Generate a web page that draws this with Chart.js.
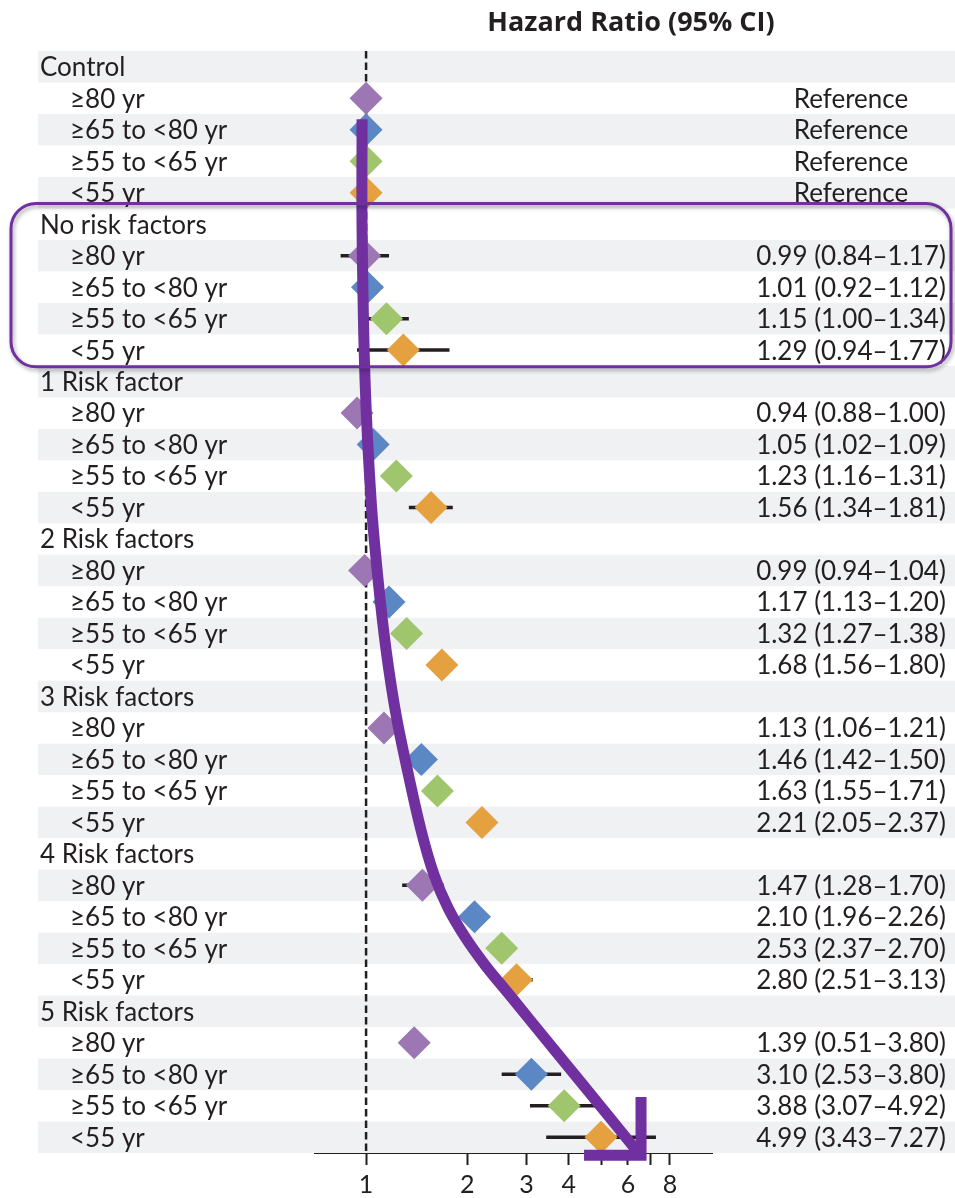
<!DOCTYPE html>
<html>
<head>
<meta charset="utf-8">
<title>Hazard Ratio by Risk Factors and Age</title>
<script src="https://cdn.jsdelivr.net/npm/chart.js@4/dist/chart.umd.min.js"></script>
<style>
  html, body { margin: 0; padding: 0; background: #ffffff; }
  canvas { display: block; }
</style>
</head>
<body>
<canvas id="forest" width="955" height="1198"></canvas>
<script>
// ---- data ----
const groups = ['Control', 'No risk factors', '1 Risk factor', '2 Risk factors', '3 Risk factors', '4 Risk factors', '5 Risk factors'];
const ageBands = ['≥80 yr', '≥65 to <80 yr', '≥55 to <65 yr', '<55 yr'];

// hazard ratio, lower and upper 95% CI per group (Control is the reference)
const hrAge80   = [1, 0.99, 0.94, 0.99, 1.13, 1.47, 1.39];
const loAge80   = [null, 0.84, 0.88, 0.94, 1.06, 1.28, 0.51];
const hiAge80   = [null, 1.17, 1.00, 1.04, 1.21, 1.70, 3.80];

const hrAge65   = [1, 1.01, 1.05, 1.17, 1.46, 2.10, 3.10];
const loAge65   = [null, 0.92, 1.02, 1.13, 1.42, 1.96, 2.53];
const hiAge65   = [null, 1.12, 1.09, 1.20, 1.50, 2.26, 3.80];

const hrAge55   = [1, 1.15, 1.23, 1.32, 1.63, 2.53, 3.88];
const loAge55   = [null, 1.00, 1.16, 1.27, 1.55, 2.37, 3.07];
const hiAge55   = [null, 1.34, 1.31, 1.38, 1.71, 2.70, 4.92];

const hrUnder55 = [1, 1.29, 1.56, 1.68, 2.21, 2.80, 4.99];
const loUnder55 = [null, 0.94, 1.34, 1.56, 2.05, 2.51, 3.43];
const hiUnder55 = [null, 1.77, 1.81, 1.80, 2.37, 3.13, 7.27];

const xTickValues = [1, 2, 3, 4, 5, 6, 7, 8];
const xTickLabels = ['1', '2', '3', '4', '', '6', '', '8'];

// hand-drawn trend arrow, in (hazard ratio, row) units
const trendPath = [
  [0.973, 1.67], [0.973, 5.19], [0.993, 9.96], [1.035, 13.77], [1.086, 16.31],
  [1.147, 18.53], [1.228, 20.59], [1.333, 22.44], [1.457, 24.25], [1.593, 25.67],
  [1.753, 26.72], [1.969, 27.64], [2.258, 28.53], [2.642, 29.42], [3.072, 30.28],
  [4.475, 32.41], [6.387, 34.44]
];
const trendHead = [[4.445, 34.57], [6.565, 34.57], [6.565, 32.72]];
// highlighted block of rows (first row, last row)
const highlightRows = [5, 9];

// ---- styling ----
const INK = '#231f20';
const ACCENT = '#7030a0';
const FONT = 'Lato, "Open Sans", sans-serif';
const ageColors = ['#9c77b3', '#5b87c4', '#a0c66d', '#e5a03f'];
const X_MIN = 0.705, X_MAX = 10.67;

const series = [
  { hr: hrAge80, lo: loAge80, hi: hiAge80 },
  { hr: hrAge65, lo: loAge65, hi: hiAge65 },
  { hr: hrAge55, lo: loAge55, hi: hiAge55 },
  { hr: hrUnder55, lo: loUnder55, hi: hiUnder55 }
];

// build the row table: a header row for each group followed by its four age bands
const rows = [];
groups.forEach((g, gi) => {
  rows.push({ header: true, label: g });
  ageBands.forEach((a, ai) => rows.push({ header: false, label: a, g: gi, a: ai }));
});
const ROW_MAX = rows.length - 1;

const fmt = v => v.toFixed(2);
rows.forEach(r => {
  if (r.header) { r.text = ''; return; }
  const s = series[r.a];
  r.text = s.lo[r.g] === null ? 'Reference'
    : fmt(s.hr[r.g]) + ' (' + fmt(s.lo[r.g]) + '–' + fmt(s.hi[r.g]) + ')';
});

// diamonds, one dataset per age band
const diamondSets = series.map((s, ai) => ({
  label: ageBands[ai],
  data: rows.map((r, ri) => r.header || r.a !== ai ? null : { x: s.hr[r.g], y: ri }).filter(Boolean),
  pointStyle: 'rectRot',
  pointRadius: 16.5,
  pointBackgroundColor: ageColors[ai],
  pointBorderWidth: 0,
  showLine: false,
  order: 2
}));

// confidence-interval whiskers as one broken line
const ciData = [];
rows.forEach((r, ri) => {
  if (r.header) return;
  const s = series[r.a];
  if (s.lo[r.g] === null || s.lo[r.g] < X_MIN) return;
  ciData.push({ x: s.lo[r.g], y: ri }, { x: s.hi[r.g], y: ri }, { x: 1, y: null });
});

const data = {
  datasets: [
    {
      label: 'trend',
      data: trendPath.map(p => ({ x: p[0], y: p[1] })),
      showLine: true, tension: 0.35, borderColor: ACCENT, borderWidth: 11,
      pointRadius: 0, borderCapStyle: 'butt', clip: false, order: 0
    },
    {
      label: 'trend head',
      data: trendHead.map(p => ({ x: p[0], y: p[1] })),
      showLine: true, tension: 0, borderColor: ACCENT, borderWidth: 11,
      borderJoinStyle: 'miter', pointRadius: 0, clip: false, order: 0
    },
    ...diamondSets,
    {
      label: 'ci',
      data: ciData,
      showLine: true, spanGaps: false, borderColor: INK, borderWidth: 3.5,
      pointRadius: 0, order: 3
    },
    {
      label: 'no effect',
      data: [{ x: 1, y: -0.5 }, { x: 1, y: ROW_MAX + 0.5 }],
      showLine: true, borderColor: INK, borderWidth: 2.5, borderDash: [7.5, 4],
      pointRadius: 0, order: 4
    }
  ]
};

// alternating row shading, row labels, estimates and column title
const bandsPlugin = {
  id: 'bands',
  beforeDatasetsDraw(chart) {
    const { ctx } = chart;
    const y = chart.scales.y;
    ctx.save();
    ctx.fillStyle = '#f0f1f3';
    rows.forEach((r, ri) => {
      if (ri % 2 !== 0) return;
      const top = y.getPixelForValue(ri - 0.5);
      const bottom = y.getPixelForValue(ri + 0.5);
      ctx.fillRect(38, top, chart.width - 38, bottom - top);
    });
    ctx.fillStyle = INK;
    ctx.textBaseline = 'middle';
    ctx.font = '26px ' + FONT;
    rows.forEach((r, ri) => {
      const cy = y.getPixelForValue(ri) + 1;
      ctx.textAlign = 'left';
      ctx.fillText(r.label, r.header ? 40 : 70, cy);
      if (r.text) {
        ctx.textAlign = 'center';
        ctx.fillText(r.text, 851, cy);
      }
    });
    ctx.font = 'bold 27px "Open Sans", ' + FONT;
    ctx.textAlign = 'center';
    ctx.fillText('Hazard Ratio (95% CI)', 631, 23);
    ctx.restore();
  }
};

// rounded frame around the highlighted block
const framePlugin = {
  id: 'frame',
  afterDatasetsDraw(chart) {
    const { ctx } = chart;
    const y = chart.scales.y;
    const top = y.getPixelForValue(highlightRows[0] - 0.5) - 5;
    const bottom = y.getPixelForValue(highlightRows[1] + 0.5) + 1;
    const left = 11, right = chart.width - 4, r = 25;
    ctx.save();
    ctx.shadowColor = 'rgba(0,0,0,0.35)';
    ctx.shadowBlur = 4;
    ctx.shadowOffsetX = 1.5;
    ctx.shadowOffsetY = 2.5;
    ctx.strokeStyle = ACCENT;
    ctx.lineWidth = 3;
    ctx.beginPath();
    ctx.roundRect(left, top, right - left, bottom - top, r);
    ctx.stroke();
    ctx.restore();
  }
};

new Chart(document.getElementById('forest'), {
  type: 'scatter',
  data,
  plugins: [bandsPlugin, framePlugin],
  options: {
    responsive: false,
    animation: false,
    devicePixelRatio: 1,
    layout: { padding: { left: 315, right: 243, top: 51, bottom: 0 } },
    plugins: { legend: { display: false }, tooltip: { enabled: false } },
    scales: {
      x: {
        type: 'logarithmic',
        min: X_MIN,
        max: X_MAX,
        bounds: 'data',
        afterBuildTicks(scale) { scale.ticks = xTickValues.map(v => ({ value: v })); },
        afterFit(scale) { scale.height = 45; },
        grid: { drawOnChartArea: false, drawTicks: true, tickLength: 12, tickColor: INK, tickWidth: 2 },
        border: { display: true, color: INK, width: 2 },
        ticks: {
          autoSkip: false, maxRotation: 0, padding: 5, color: INK,
          font: { family: FONT, size: 25 },
          callback: v => xTickLabels[xTickValues.indexOf(v)] ?? ''
        }
      },
      y: {
        type: 'linear', min: -0.5, max: ROW_MAX + 0.5, reverse: true, display: false
      }
    }
  }
});
</script>
</body>
</html>
